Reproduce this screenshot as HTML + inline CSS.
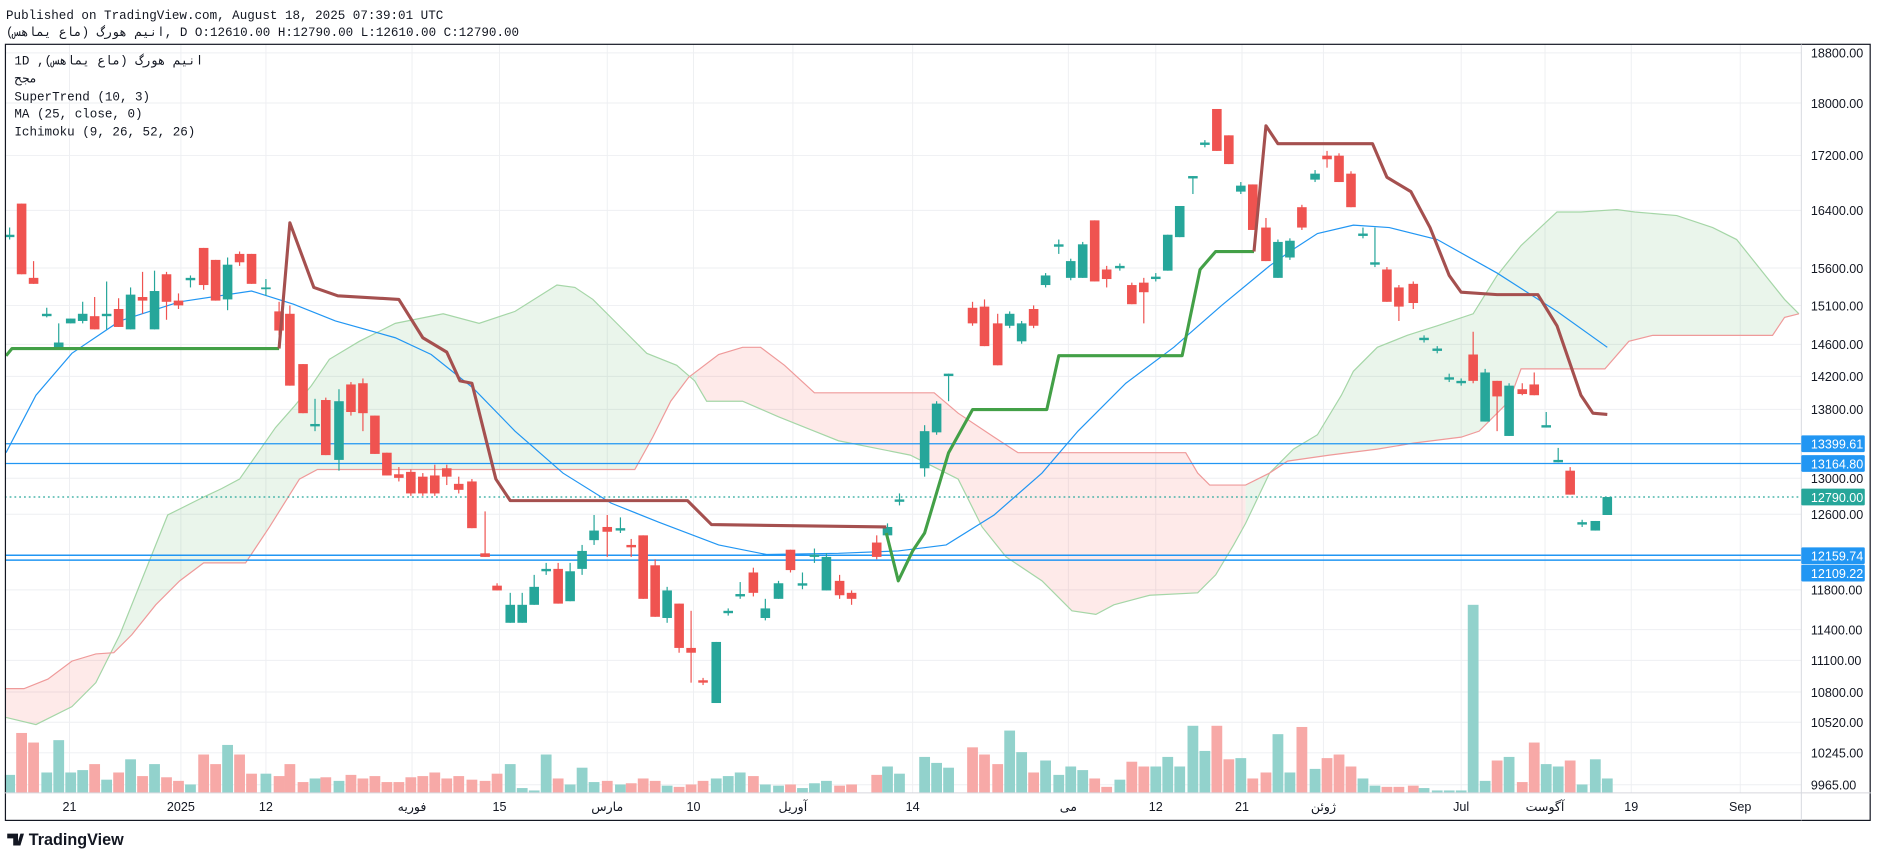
<!DOCTYPE html>
<html><head><meta charset="utf-8"><style>
html,body{margin:0;padding:0;background:#fff;width:1878px;height:858px;overflow:hidden}
svg{display:block}
.m{font-family:"Liberation Mono","DejaVu Sans Mono",monospace;font-size:10.5px;fill:#131722}
.a{font-family:"Liberation Sans","DejaVu Sans",sans-serif;font-size:10.5px;fill:#131722}
.t{font-family:"Liberation Sans","DejaVu Sans","Noto Sans CJK SC",sans-serif;font-size:10.5px;fill:#131722}
.w{font-family:"Liberation Sans",sans-serif;font-size:10.5px;fill:#fff}
</style></head><body>
<svg id="s" width="1878" height="858" viewBox="0 0 1568 716.4" xmlns="http://www.w3.org/2000/svg">
<rect x="0" y="0" width="1568" height="717" fill="#fff"/>
<g id="grid" stroke="#eeeff2" stroke-width="0.8"></g>
<defs>
<clipPath id="cg"><rect x="95" y="0" width="487" height="700"/><rect x="1040" y="0" width="462" height="700"/></clipPath>
<clipPath id="cr"><rect x="4" y="0" width="91" height="700"/><rect x="582" y="0" width="458" height="700"/></clipPath>
<clipPath id="pane"><rect x="4" y="37" width="1500" height="625"/></clipPath>
</defs>
<g clip-path="url(#pane)">
<path id="cloudG" fill="rgba(67,160,71,0.11)" clip-path="url(#cg)"/>
<path id="cloudR" fill="rgba(244,67,54,0.11)" clip-path="url(#cr)"/>
<polyline id="spA" fill="none" stroke="#a5d6a7" stroke-width="1"/>
<polyline id="spB" fill="none" stroke="#ef9a9a" stroke-width="1"/>
<g id="vol"></g>
<line x1="4" x2="1504" y1="370.5" y2="370.5" stroke="#2196f3" stroke-width="1"/>
<line x1="4" x2="1504" y1="387" y2="387" stroke="#2196f3" stroke-width="1"/>
<line x1="4" x2="1504" y1="463.6" y2="463.6" stroke="#2196f3" stroke-width="1.3"/>
<line x1="4" x2="1504" y1="467.7" y2="467.7" stroke="#2196f3" stroke-width="1.3"/>
<line x1="4" x2="1504" y1="415" y2="415" stroke="#26a69a" stroke-width="1" stroke-dasharray="1.5,2.5"/>
<polyline id="ma" fill="none" stroke="#2196f3" stroke-width="1"/>
<g id="cdl"></g>
<g id="st" fill="none" stroke-width="2.6" stroke-linejoin="round"></g>
</g>
<rect x="4.5" y="37" width="1557" height="648" fill="none" stroke="#131722" stroke-width="1"/>
<line x1="1504" x2="1504" y1="37" y2="685" stroke="#d6d8de" stroke-width="0.8"/>
<line x1="4" x2="1562" y1="662" y2="662" stroke="#d6d8de" stroke-width="0.8"/>
<text class="m" x="5" y="16">Published on TradingView.com, August 18, 2025 07:39:01 UTC</text>
<text class="m" x="5" y="30" style="font-family:'Liberation Mono','DejaVu Sans Mono','Noto Sans CJK SC',monospace">انیم هورگ (ماع یماهس), D O:12610.00 H:12790.00 L:12610.00 C:12790.00</text>
<text class="m" x="12" y="54" style="font-family:'Liberation Mono','DejaVu Sans Mono','Noto Sans CJK SC',monospace">1D ,(ماع یماهس) انیم هورگ</text>
<text class="m" x="12" y="69" style="font-family:'Liberation Mono','DejaVu Sans Mono','Noto Sans CJK SC',monospace">مجح</text>
<text class="m" x="12" y="84">SuperTrend (10, 3)</text>
<text class="m" x="12" y="98">MA (25, close, 0)</text>
<text class="m" x="12" y="113">Ichimoku (9, 26, 52, 26)</text>
<g id="plab"></g>
<rect x="1504" y="363.5" width="53" height="14" rx="1" fill="#2196f3"/><text class="w" x="1512" y="374.5">13399.61</text>
<rect x="1504" y="380" width="53" height="14" rx="1" fill="#2196f3"/><text class="w" x="1512" y="391">13164.80</text>
<rect x="1504" y="408" width="53" height="14" rx="1" fill="#26a69a"/><text class="w" x="1512" y="419">12790.00</text>
<rect x="1504" y="457" width="53" height="14" rx="1" fill="#2196f3"/><text class="w" x="1512" y="468">12159.74</text>
<rect x="1504" y="471.5" width="53" height="14" rx="1" fill="#2196f3"/><text class="w" x="1512" y="482.5">12109.22</text>
<g class="t" text-anchor="middle">
<text x="58" y="677">21</text><text x="151" y="677">2025</text><text x="222" y="677">12</text>
<text x="344" y="677">فوریه</text><text x="417" y="677">15</text><text x="507" y="677">مارس</text>
<text x="579" y="677">10</text><text x="662" y="677">آوریل</text><text x="762" y="677">14</text>
<text x="892" y="677">می</text><text x="965" y="677">12</text><text x="1037" y="677">21</text>
<text x="1105" y="677">ژوئن</text><text x="1220" y="677">Jul</text><text x="1290" y="677">آگوست</text>
<text x="1362" y="677">19</text><text x="1453" y="677">Sep</text>
</g>
<g transform="translate(6,693)">
<path d="M0 3h9v10h-4v-6h-5z M11 3h3l-3 10h-3z" fill="#131722"/>
<text x="18" y="12.5" style="font-family:'Liberation Sans',sans-serif;font-size:13.5px;font-weight:bold;fill:#131722">TradingView</text>
</g>
</svg>
<script>
var NS="http://www.w3.org/2000/svg";
function el(p,t,a){var e=document.createElementNS(NS,t);for(var k in a)e.setAttribute(k,a[k]);document.getElementById(p).appendChild(e);return e;}
function Y(p){return 44.25+962.7*(9.8415-Math.log(p));}
var prices=[18800,18000,17200,16400,15600,15100,14600,14200,13800,13000,12600,11800,11400,11100,10800,10520,10245,9965];
prices.forEach(function(p){var y=Y(p);el("grid","line",{x1:4,x2:1504,y1:y,y2:y});
var t=el("plab","text",{"class":"a",x:1512,y:y+4});t.textContent=p.toFixed(2);});
[58,151,222,344,417,507,579,662,762,892,965,1037,1105,1220,1290,1362,1453].forEach(function(x){el("grid","line",{x1:x,x2:x,y1:37,y2:662});});
function pts(a){return a.map(function(p){return p[0]+","+p[1];}).join(" ");}
var A=[[5,599],[30,605],[60,590],[80,570],[100,530],[120,480],[140,430],[170,415],[185,408],[200,400],[230,357],[245,340],[260,322],[275,300],[300,285],[330,270],[370,262],[400,270],[430,260],[465,238],[480,240],[495,250],[515,270],[540,295],[565,305],[580,318],[590,335],[620,335],[650,348],[680,360],[700,368],[730,374],[760,380],[780,390],[800,400],[820,440],[840,465],[870,485],[895,510],[915,513],[930,505],[960,497],[1000,495],[1015,480],[1030,455],[1040,437],[1060,395],[1080,375],[1100,363],[1120,330],[1130,310],[1150,290],[1175,280],[1200,272],[1230,262],[1250,230],[1270,205],[1300,177],[1320,177],[1350,175],[1365,177],[1400,180],[1430,190],[1450,200],[1470,225],[1490,250],[1502,262]];
var B=[[5,575],[20,575],[40,567],[60,552],[80,546],[95,545],[110,530],[130,505],[150,485],[170,470],[205,470],[225,440],[250,400],[265,392],[530,392],[545,365],[560,335],[575,315],[600,296],[620,290],[635,290],[655,305],[680,328],[780,328],[800,345],[830,365],[850,378],[990,378],[1000,395],[1010,405],[1040,405],[1060,395],[1075,385],[1110,380],[1150,375],[1180,370],[1220,365],[1235,360],[1260,335],[1270,308],[1340,308],[1360,285],[1380,280],[1480,280],[1490,265],[1502,262]];
var poly="M"+pts(A)+" L"+pts(B.slice().reverse())+"Z";
document.getElementById("cloudG").setAttribute("d",poly);document.getElementById("cloudR").setAttribute("d",poly);
document.getElementById("spA").setAttribute("points",pts(A));document.getElementById("spB").setAttribute("points",pts(B));
var MA=[[5,378],[30,330],[60,295],[100,268],[150,252],[210,243],[245,254],[280,268],[330,282],[360,296],[395,324],[430,360],[470,395],[510,420],[550,436],[600,455],[640,463],[700,462],[750,460],[790,455],[830,430],[870,395],[900,360],[940,320],[980,290],[1020,255],[1060,222],[1080,208],[1100,195],[1130,188],[1160,190],[1200,200],[1250,228],[1300,260],[1342,290]];
document.getElementById("ma").setAttribute("points",pts(MA));
var G1=[[5,297],[10,291],[233,291]];
var R1=[[233,291],[242,186],[262,240],[282,247],[333,250],[353,282],[373,294],[384,318],[394,320],[414,400],[426,418],[574,418],[594,438],[740,440]];
var G2=[[740,445],[750,485],[762,460],[772,445],[792,378],[812,342],[874,342],[884,297],[987,297],[1002,225],[1015,210],[1047,210]];
var R2=[[1047,210],[1057,105],[1067,120],[1146,120],[1158,148],[1178,160],[1194,190],[1210,230],[1220,244],[1250,246],[1284,246],[1300,272],[1320,330],[1330,345],[1342,346]];
[[G1,"#43a047"],[R1,"#a5504f"],[G2,"#43a047"],[R2,"#a5504f"]].forEach(function(s){el("st","polyline",{points:pts(s[0]),stroke:s[1]});});
var C=[[8,196,198,190,200,"g",647],[18,170,229,170,229,"r",612],[28,232,237,218,237,"r",620],[39,262,264,257,265,"g",645],[49,286,292,270,292,"g",618],
[59,266,270,266,270,"g",645],[69,262,268,252,270,"g",643],[79,264,275,248,275,"r",638],[89,262,264,235,275,"g",651],[99,258,273,249,273,"r",645],
[109,246,275,240,275,"g",634],[119,248,251,227,262,"r",648],[129,243,275,226,275,"g",638],[139,229,252,227,267,"r",649],[149,251,255,245,258,"r",652],
[159,232,234,230,240,"g",655],[170,207,238,207,242,"r",630],[180,217,251,217,251,"r",638],[190,221,250,215,259,"g",622],[200,212,219,210,222,"r",630],
[210,212,237,212,237,"r",646],[222,240,241,233,247,"g",646],[233,260,276,252,280,"r",648],[242,262,322,255,322,"r",638],[253,304,345,304,345,"r",653],
[263,354,356,333,360,"g",650],[272,334,380,332,380,"r",649],[283,335,384,325,393,"g",652],[293,321,344,319,347,"r",647],[303,320,345,316,360,"r",650],
[313,347,379,347,379,"r",648],[323,378,397,378,397,"r",653],[333,396,399,390,402,"r",653],[343,394,412,392,414,"r",649],[353,398,412,395,414,"r",648],
[363,397,412,388,414,"r",645],[373,391,398,388,405,"r",650],[383,404,409,398,412,"r",648],[394,402,441,400,441,"r",651],[405,462,465,427,465,"r",652],
[415,489,493,487,493,"r",646],[426,505,520,495,520,"g",638],[436,505,520,495,520,"g",658],[446,490,505,480,505,"g",660],[456,475,477,470,480,"g",630],
[466,475,504,470,504,"r",650],[476,477,502,470,502,"g",655],[486,460,475,455,480,"g",641],[496,443,451,430,455,"g",653],[507,440,444,430,465,"r",652],
[518,441,443,432,445,"g",655],[527,455,457,450,465,"r",654],[537,447,500,447,500,"r",650],[547,472,515,467,515,"r",652],[557,493,516,490,520,"g",656],
[567,504,541,504,545,"r",657],[577,541,545,510,570,"r",655],[587,568,570,566,572,"r",652],[598,536,587,536,587,"g",650],[608,510,512,508,514,"g",648],
[618,496,498,486,500,"g",645],[629,478,495,474,498,"r",648],[639,508,516,500,518,"g",655],[650,487,500,485,500,"g",656],[660,459,476,459,478,"r",655],
[670,487,489,478,492,"g",658],[680,463,465,458,470,"g",654],[690,465,493,462,493,"g",652],[701,485,497,480,500,"r",656],[711,495,500,493,505,"r",655],
[732,453,465,447,467,"r",647],[741,440,447,437,449,"g",640],[751,417,419,412,422,"g",646],[772,360,391,355,398,"g",632],[782,337,361,335,363,"g",637],
[792,312,314,312,335,"g",641],[812,257,270,252,272,"r",624],[822,256,289,250,289,"r",630],[833,270,305,262,305,"r",638],[843,262,272,260,274,"g",610],
[853,270,285,268,287,"g",628],[863,258,272,255,274,"r",645],[873,230,238,228,240,"g",635],[884,204,206,200,212,"g",647],[894,218,232,216,234,"g",640],
[904,204,232,202,232,"g",643],[914,184,235,184,235,"r",650],[924,225,233,222,240,"r",657],[935,222,224,220,226,"g",651],[945,238,254,236,254,"r",636],
[955,236,244,232,270,"r",640],[965,231,233,228,235,"g",640],[975,196,226,196,226,"g",632],[985,172,198,172,198,"g",640],[996,147,149,147,162,"g",606],
[1006,119,121,117,123,"g",627],[1016,91,126,91,126,"r",606],[1026,113,137,113,137,"r",634],[1036,155,160,152,162,"g",633],[1046,154,192,154,192,"r",650],
[1057,190,218,182,218,"r",645],[1067,202,232,200,232,"g",613],[1077,201,215,199,217,"g",645],[1087,173,190,171,192,"r",607],[1098,145,150,142,152,"g",642],
[1108,130,133,126,140,"r",633],[1118,130,152,128,152,"r",630],[1128,145,173,143,173,"r",640],[1138,195,197,190,199,"g",650],[1148,219,221,190,223,"g",656],
[1158,225,252,223,252,"r",657],[1168,240,256,238,268,"r",657],[1180,237,253,235,258,"r",656],[1189,282,284,280,286,"g",658],[1200,291,293,289,295,"g",660],
[1210,315,317,312,319,"g",660],[1220,318,320,316,322,"g",660],[1230,296,318,277,320,"r",505,"g"],[1240,311,352,308,352,"g",652],[1250,318,331,318,360,"r",635],
[1260,322,364,320,364,"g",632],[1271,325,329,320,330,"r",653],[1281,321,330,311,330,"r",620],[1291,355,357,344,357,"g",638],[1301,384,386,374,386,"g",640],
[1311,393,413,390,413,"r",635],[1321,436,438,434,440,"g",655],[1332,435,443,435,443,"g",634],[1342,415,430,415,430,"g",650]];
C.forEach(function(c){var col=c[5]=="g"?"#26a69a":"#ef5350",vk=c[7]||c[5],vc=vk=="g"?"#92d2cc":"#f7a9a7";
el("vol","rect",{x:c[0]-4.5,y:c[6],width:9,height:662-c[6],fill:vc});
el("cdl","line",{x1:c[0],x2:c[0],y1:c[3],y2:c[4],stroke:col,"stroke-width":1});
el("cdl","rect",{x:c[0]-4,y:c[1],width:8,height:Math.max(1.5,c[2]-c[1]),fill:col});});
</script>
</body></html>
